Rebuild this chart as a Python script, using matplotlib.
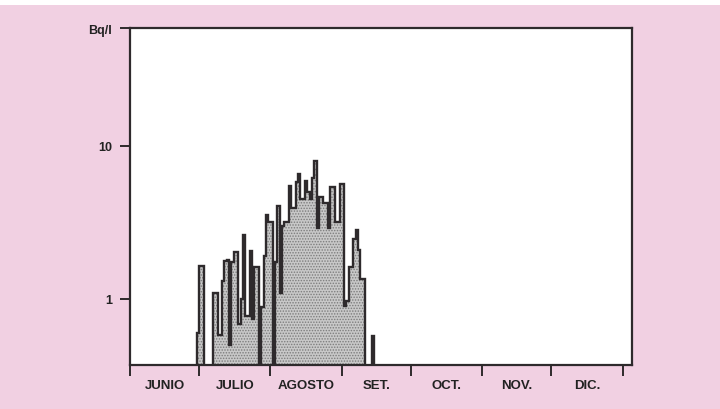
import matplotlib
matplotlib.use("Agg")
import matplotlib.pyplot as plt
from matplotlib.patches import Rectangle
import numpy as np

# Month boundaries as day offsets from 1 June, and their labels
month_starts = [0, 30, 61, 92, 122, 153, 183, 214]
month_labels = ["JUNIO", "JULIO", "AGOSTO", "SET.", "OCT.", "NOV.", "DIC."]

# Daily activity (Bq/l), starting on day 28 after 1 June.
# 0.1 marks days below the detection limit.
first_day = 28
daily_bq = [
    0.60,
    1.64, 1.64,
    0.1, 0.1, 0.1, 0.1,
    1.09, 1.09,
    0.58, 0.58,
    1.31,
    1.77,
    1.80,
    0.50,
    1.75,
    2.03, 2.03,
    0.69,
    1.00,
    2.62,
    0.78, 0.78,
    2.06,
    0.74,
    1.62, 1.62,
    0.1,
    0.89,
    1.91,
    3.55,
    3.2, 3.2,
    0.1,
    1.74,
    4.05,
    1.1,
    3.0,
    3.2, 3.2,
    5.5,
    3.9, 3.9,
    5.8,
    6.5,
    4.5, 4.5,
    5.9,
    5.0,
    4.5,
    6.2,
    7.9,
    2.9,
    4.6, 4.6,
    4.2, 4.2,
    2.9,
    5.4, 5.4,
    3.2, 3.2,
    5.6, 5.6,
    0.9,
    0.97,
    1.62, 1.62,
    2.46,
    2.8,
    2.1,
    1.35, 1.35,
    0.1, 0.1, 0.1,
    0.57,
]

y_ticks = [1, 10]
y_tick_labels = ["1", "10"]
unit_label = "Bq/l"

pink = "#f1d0e2"
dark = "#2e2a2c"

plt.rcParams["font.family"] = ["Liberation Sans", "DejaVu Sans"]
plt.rcParams["hatch.linewidth"] = 0.7

fig = plt.figure(figsize=(7.2, 4.1), dpi=100, facecolor=pink)
# thin white band along the top edge of the sheet
fig.patches.append(Rectangle((0, 1 - 6 / 410), 1, 6 / 410, transform=fig.transFigure,
                             facecolor="white", edgecolor="none", zorder=0))

ax = fig.add_axes([130 / 720, 1 - 366 / 410, 502 / 720, 337 / 410])
ax.set_facecolor("white")
ax.set_yscale("log")
ymin, ymax = 0.371, 58.6
ax.set_ylim(ymin, ymax)
ax.set_xlim(0, 218)

values = np.array(daily_bq)
edges = first_day + 1 + np.arange(len(values) + 1)

# stippled grey area
ax.stairs(values, edges, baseline=0.05, fill=True, facecolor="#c8c8c8",
          edgecolor="#7c7c7c", hatch="......", linewidth=0, zorder=2)
# dark outline of the daily profile
ax.stairs(values, edges, baseline=0.05, fill=False, color=dark,
          linewidth=1.7, zorder=3)

# y axis: decades plus unit label at the top
ax.set_yticks(y_ticks + [ymax])
ax.set_yticklabels(y_tick_labels + [unit_label])
ax.yaxis.set_minor_locator(matplotlib.ticker.NullLocator())
ax.tick_params(axis="y", which="major", direction="out", length=7, width=1.4,
               color=dark, pad=6, labelsize=9, labelcolor="#222222")

# x axis: ticks at month boundaries, labels centred in each month
ax.set_xticks(month_starts)
ax.set_xticklabels([])
mids = [(a + b) / 2 for a, b in zip(month_starts[:-1], month_starts[1:])]
ax.set_xticks(mids, minor=True)
ax.set_xticklabels(month_labels, minor=True)
ax.tick_params(axis="x", which="major", direction="out", length=8, width=1.4, color=dark)
ax.tick_params(axis="x", which="minor", length=0, pad=10, labelsize=9.5, labelcolor="#222222")

for lab in ax.get_xticklabels(minor=True) + ax.get_yticklabels():
    lab.set_fontweight("bold")

for s in ax.spines.values():
    s.set_linewidth(1.6)
    s.set_color(dark)

fig.savefig("out.png", dpi=100, facecolor=pink)
